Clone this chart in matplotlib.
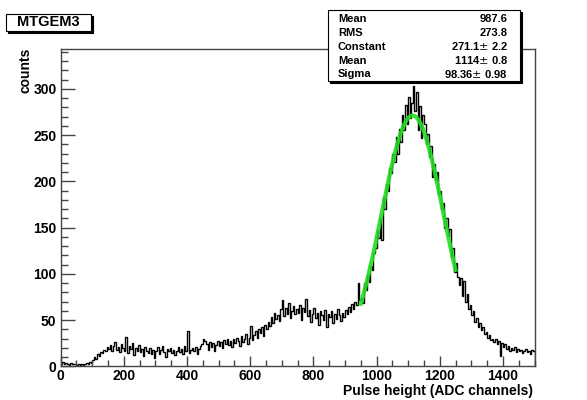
import numpy as np
import matplotlib.pyplot as plt
from matplotlib.patches import Rectangle

plt.rcParams['font.family'] = ['Liberation Sans', 'DejaVu Sans']

# histogram: 300 bins of width 5 from 0 to 1500
bin_width = 5
x_min, x_max = 0, 1500
counts = [
    3, 5, 2, 4, 3, 1, 4, 2, 3, 2,
    1, 2, 0, 3, 1, 2, 4, 3, 5, 4,
    7, 10, 8, 13, 11, 15, 14, 18, 16, 21,
    19, 23, 17, 22, 26, 18, 21, 15, 24, 20,
    17, 32, 14, 22, 19, 25, 12, 20, 17, 23,
    15, 19, 11, 21, 16, 14, 20, 13, 18, 9,
    17, 21, 13, 18, 22, 15, 10, 19, 16, 20,
    14, 18, 12, 17, 21, 15, 19, 13, 22, 16,
    38, 14, 18, 20, 16, 21, 13, 19, 22, 24,
    29, 27, 24, 18, 26, 21, 25, 16, 23, 27,
    22, 26, 20, 28, 24, 30, 23, 27, 21, 29,
    25, 31, 27, 22, 33, 26, 29, 35, 24, 31,
    44, 28, 34, 38, 31, 40, 36, 42, 33, 45,
    40, 48, 44, 53, 47, 58, 51, 55, 49, 62,
    72, 54, 63, 57, 68, 52, 60, 65, 56, 62,
    58, 66, 50, 63, 59, 73, 54, 61, 48, 57,
    63, 52, 58, 45, 60, 55, 50, 61, 42, 56,
    53, 60, 47, 57, 51, 62, 55, 49, 58, 53,
    61, 56, 64, 59, 67, 62, 70, 66, 90, 72,
    74, 68, 90, 82, 99, 91, 108, 104, 123, 128,
    147, 139, 160, 136, 183, 170, 197, 189, 214, 209,
    230, 221, 248, 229, 256, 243, 272, 255, 283, 262,
    291, 268, 285, 303, 276, 296, 255, 281, 247, 272,
    262, 240, 251, 226, 238, 205, 219, 201, 210, 186,
    189, 170, 177, 150, 160, 141, 148, 118, 128, 102,
    112, 97, 88, 95, 76, 92, 70, 78, 62, 66,
    55, 60, 48, 52, 43, 47, 39, 42, 35, 37,
    31, 34, 28, 30, 26, 29, 24, 27, 11, 25,
    21, 24, 19, 22, 17, 20, 18, 21, 15, 19,
    16, 18, 14, 17, 19, 15, 17, 13, 18, 16,
]
edges = np.arange(x_min, x_max + bin_width, bin_width)

# gaussian fit results shown in the stats box
fit_constant = 271.1
fit_mean = 1114
fit_sigma = 98.36
fit_range = (950, 1250)

stats_labels = ["Mean", "RMS", "Constant", "Mean", "Sigma"]
stats_values = ["987.6", "273.8", "271.1$\\pm$ 2.2", "1114$\\pm$ 0.8", "98.36$\\pm$ 0.98"]

W, H = 587, 400
fig = plt.figure(figsize=(W / 100, H / 100), dpi=100)
ax = fig.add_axes([60.7 / W, 1 - 366.3 / H, (534.5 - 60.7) / W, (366.3 - 49) / H])

ax.stairs(counts, edges, color='black', linewidth=1.0)

xf = np.linspace(fit_range[0], fit_range[1], 300)
yf = fit_constant * np.exp(-0.5 * ((xf - fit_mean) / fit_sigma) ** 2)
ax.plot(xf, yf, color='#22dd22', linewidth=3, alpha=0.9)

ax.set_xlim(x_min, x_max)
ax.set_ylim(0, 343)
ax.set_xticks(np.arange(0, 1401, 200))
ax.set_xticks(np.arange(0, 1501, 50), minor=True)
ax.set_yticks(np.arange(0, 301, 50))
ax.set_yticks(np.arange(0, 341, 10), minor=True)

for s in ax.spines.values():
    s.set_color('#444444')
    s.set_linewidth(1.0)
ax.tick_params(axis='both', which='both', direction='in', colors='#444444',
               labelcolor='black', width=1.0)
ax.tick_params(axis='y', which='major', length=10, pad=3, labelsize=10)
ax.tick_params(axis='y', which='minor', length=5)
ax.tick_params(axis='x', which='major', length=7, pad=2, labelsize=10)
ax.tick_params(axis='x', which='minor', length=4)
for lab in ax.get_xticklabels() + ax.get_yticklabels():
    lab.set_fontweight('bold')

fig.text(25 / W, 1 - 48 / H, "counts", rotation=90, ha='center', va='top',
         fontsize=10, fontweight='bold')
fig.text(533 / W, 1 - 391 / H, "Pulse height (ADC channels)", ha='right',
         va='center', fontsize=10, fontweight='bold')


def framed_box(x0, y0, x1, y1):
    # pixel coords from top-left, with a small ROOT-style shadow
    sh = 2
    fig.patches.append(Rectangle((x0 / W + sh / W, 1 - y1 / H - sh / H), (x1 - x0) / W, (y1 - y0) / H,
                                 transform=fig.transFigure, facecolor='black', edgecolor='black',
                                 linewidth=0.8, zorder=5))
    fig.patches.append(Rectangle((x0 / W, 1 - y1 / H), (x1 - x0) / W, (y1 - y0) / H,
                                 transform=fig.transFigure, facecolor='white', edgecolor='black',
                                 linewidth=0.8, zorder=6))


framed_box(6, 14, 91, 31)
fig.text(48 / W, 1 - 22.5 / H, "MTGEM3", ha='center', va='center', fontsize=10.5,
         fontweight='bold', zorder=7)

framed_box(328, 10, 520, 81)
row_y = [18.5, 32.5, 46.5, 60.5, 74]
for lbl, val, yy in zip(stats_labels, stats_values, row_y):
    fig.text(338 / W, 1 - yy / H, lbl, ha='left', va='center', fontsize=8,
             fontweight='bold', zorder=7)
    fig.text(508 / W, 1 - yy / H, val, ha='right', va='center', fontsize=8,
             fontweight='bold', zorder=7)

fig.savefig('out.png', dpi=100)
